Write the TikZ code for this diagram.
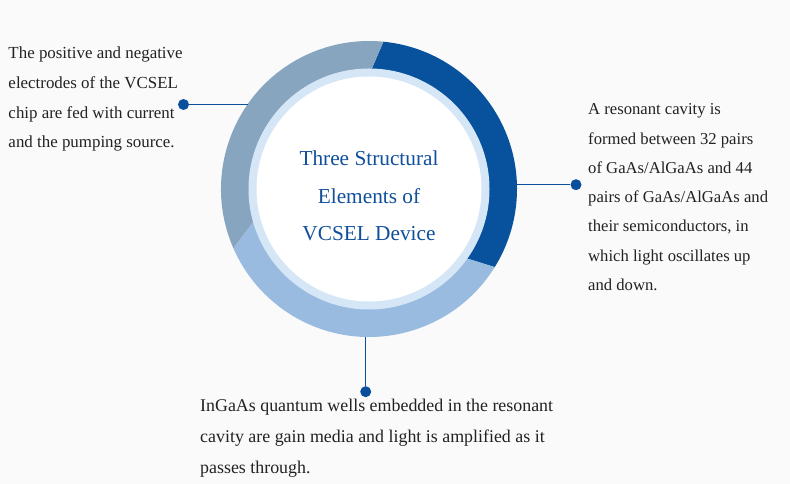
\documentclass[tikz,border=0pt]{standalone}
\usepackage{fontspec}
\setmainfont{Liberation Serif}
\usetikzlibrary{calc}
\definecolor{bgc}{HTML}{FAFAFA}
\definecolor{cDark}{HTML}{07519D}
\definecolor{cGray}{HTML}{88A5C0}
\definecolor{cLight}{HTML}{99BBDF}
\definecolor{cRing}{HTML}{D5E6F7}
\definecolor{tBlue}{HTML}{0F4F9B}
\definecolor{lineBlue}{HTML}{0A4F9C}
\definecolor{tBlack}{HTML}{222222}
\tikzset{
  dotnode/.style={circle,fill=lineBlue,minimum size=11pt,inner sep=0pt},
  conn/.style={draw=lineBlue,line width=1.1pt},
  desc/.style={align=left,inner sep=0pt,anchor=north west,text=tBlack},
  title/.style={align=center,inner sep=0pt,anchor=north,text=tBlue,font=\fontsize{21.3}{37.6}\selectfont}
}
\begin{document}
\begin{tikzpicture}[x=1pt,y=1pt]
\fill[bgc] (0,0) rectangle (790,484);
\useasboundingbox (0,0) rectangle (790,484);
\coordinate (C) at (369,295);
% ring segments
\fill[cDark] ($(C)+(84.4:148pt)$) arc[start angle=84.4,end angle=-31.85,radius=148pt]
  -- ($(C)+(-35.35:120pt)$) arc[start angle=-35.35,end angle=88.7,radius=120pt] -- cycle;
\fill[cLight] ($(C)+(-31.85:148pt)$) arc[start angle=-31.85,end angle=-156.4,radius=148pt]
  -- ($(C)+(-164.4:120pt)$) arc[start angle=-164.4,end angle=-35.35,radius=120pt] -- cycle;
\fill[cGray] ($(C)+(203.6:148pt)$) arc[start angle=203.6,end angle=84.4,radius=148pt]
  -- ($(C)+(88.7:120pt)$) arc[start angle=88.7,end angle=195.6,radius=120pt] -- cycle;
\fill[cRing] (C) circle[radius=120.5pt];
\fill[white] (C) circle[radius=112.5pt];
\node[circle,minimum size=296pt,inner sep=0pt] (ring) at (C) {};
% center title
\node[title] (t) at (369,333.5) {Three Structural\\Elements of\\VCSEL Device};
% connectors
\node[dotnode] (dl) at (183.5,379.5) {};
\node[dotnode] (dr) at (576,299.3) {};
\node[dotnode] (db) at (365.7,92.3) {};
\draw[conn] (dl) -- (dl -| ring.145);
\draw[conn] (dr) -- (dr -| ring.2);
\draw[conn] (db) -- (db |- ring.269);
% texts
\node[desc,font=\fontsize{16.9}{29.7}\selectfont] (tl) at (8.3,437.2) {The positive and negative\\electrodes of the VCSEL\\chip are fed with current\\and the pumping source.};
\node[desc,font=\fontsize{16.65}{29.25}\selectfont] (tr) at (588,380.4) {A resonant cavity is\\formed between 32 pairs\\of GaAs/AlGaAs and 44\\pairs of GaAs/AlGaAs and\\their semiconductors, in\\which light oscillates up\\and down.};
\node[desc,font=\fontsize{17.9}{31}\selectfont] (tb) at (200,85.5) {InGaAs quantum wells embedded in the resonant\\cavity are gain media and light is amplified as it\\passes through.};
\end{tikzpicture}
\end{document}
